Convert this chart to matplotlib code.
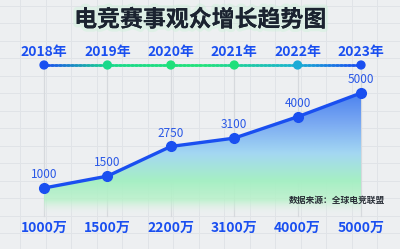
import numpy as np
import matplotlib.pyplot as plt
import matplotlib.patheffects as pe
from matplotlib.collections import LineCollection
from matplotlib.colors import LinearSegmentedColormap, to_rgb

plt.rcParams['font.family'] = ['Noto Sans CJK SC', 'DejaVu Sans']

# 数据
years = ['2018年', '2019年', '2020年', '2021年', '2022年', '2023年']
viewers = [1000, 1500, 2750, 3100, 4000, 5000]
bottom_labels = ['1000万', '1500万', '2200万', '3100万', '4000万', '5000万']
dot_colors = ['#1a4ff0', '#19d98a', '#1fe07a', '#1fe07a', '#1aaad6', '#1a4ff0']
title = '电竞赛事观众增长趋势图'
source = '数据来源：全球电竞联盟'

bg = '#edeff1'
blue = '#1a4ff0'

fig = plt.figure(figsize=(4, 2.49), dpi=100)
fig.patch.set_facecolor(bg)

# 背景网格 (像素坐标)
bgax = fig.add_axes([0, 0, 1, 1])
bgax.set_xlim(0, 400)
bgax.set_ylim(249, 0)
bgax.axis('off')
for gx in np.arange(20, 400, 25.5):
    bgax.axvline(gx, color='#e0e3e7', lw=0.7, zorder=0)
for gy in np.arange(5.5, 249, 17.5):
    bgax.axhline(gy, color='#e0e3e7', lw=0.7, zorder=0)

# 主图坐标: 全图
ax = fig.add_axes([0, 0, 1, 1])
ax.patch.set_alpha(0)
x = np.arange(len(years))
ax.axis('off')

def py(p):
    # 像素(自顶向下) -> 轴坐标
    return 1 - p / 249

xt = ax.get_xaxis_transform()

# 年份竖线
for xi in x:
    ax.plot([xi, xi], [py(65), py(216)], color='#d6d9dd', lw=0.9,
            transform=xt, zorder=1)

# 渐变填充
base = -137
cmap_fill = LinearSegmentedColormap.from_list('fill', [
    (0.0, (*to_rgb(bg), 0.0)),
    (0.12, (*to_rgb('#b6f2c8'), 0.8)),
    (0.28, (*to_rgb('#a6efc4'), 1.0)),
    (0.5, (*to_rgb('#a4d8f2'), 1.0)),
    (0.75, (*to_rgb('#7aa9f2'), 1.0)),
    (1.0, (*to_rgb('#4a80ef'), 1.0)),
])
grad = np.linspace(0, 1, 256).reshape(-1, 1)
img = ax.imshow(grad, cmap=cmap_fill, origin='lower', aspect='auto',
                extent=[x[0], x[-1], base, max(viewers)], zorder=2)
poly = ax.fill_between(x, viewers, base, color='none', lw=0)
img.set_clip_path(poly.get_paths()[0], transform=ax.transData)
ax.set_xlim(-0.694, 5.615)
ax.set_ylim(-1568, 8916)

# 折线
ax.plot(x, viewers, color=blue, lw=2.4, marker='o', ms=7, zorder=4)
for xi, v in zip(x, viewers):
    ax.annotate(str(v), (xi, v), xytext=(0, 5), textcoords='offset points',
                ha='center', va='bottom', fontsize=8.5, color='#2a58e6', zorder=5)

# 时间轴
tl_cmap = LinearSegmentedColormap.from_list('tl', [
    (0.0, '#1a4ff0'), (0.2, '#19d98a'), (0.5, '#22e27a'),
    (0.8, '#1ab2d0'), (1.0, '#1a4ff0')])
tx = np.linspace(x[0], x[-1], 80)
ty = np.full_like(tx, py(65))
pts = np.column_stack([tx, ty]).reshape(-1, 1, 2)
segs = np.concatenate([pts[:-1], pts[1:]], axis=1)
lc = LineCollection(segs, cmap=tl_cmap, lw=1.8, transform=xt, zorder=3,
                    capstyle='projecting')
lc.set_array(np.linspace(0, 1, len(segs)))
ax.add_collection(lc)
ax.scatter(x, [py(65)] * len(x), s=32, c=dot_colors, zorder=4, transform=xt)
for xi, yr in zip(x, years):
    ax.text(xi, py(52), yr, ha='center', va='center', fontsize=10,
            color=blue, fontweight='semibold', transform=xt)

# 底部标签
for xi, lb in zip(x, bottom_labels):
    ax.text(xi, py(228), lb, ha='center', va='center', fontsize=10,
            color=blue, fontweight='bold', transform=xt)

# 标题
fig.text(0.5, py(20), title, ha='center', va='center', fontsize=16.5,
         fontweight='bold', color='#1b2330',
         path_effects=[pe.withStroke(linewidth=5, foreground='#cdf2da', alpha=0.45), pe.Normal()])

# 数据来源
fig.text(385 / 400, py(200), source, ha='right', va='center', fontsize=6.3,
         fontweight='bold', color='#2a2f38')

fig.savefig('out.png', dpi=100, facecolor=bg)
